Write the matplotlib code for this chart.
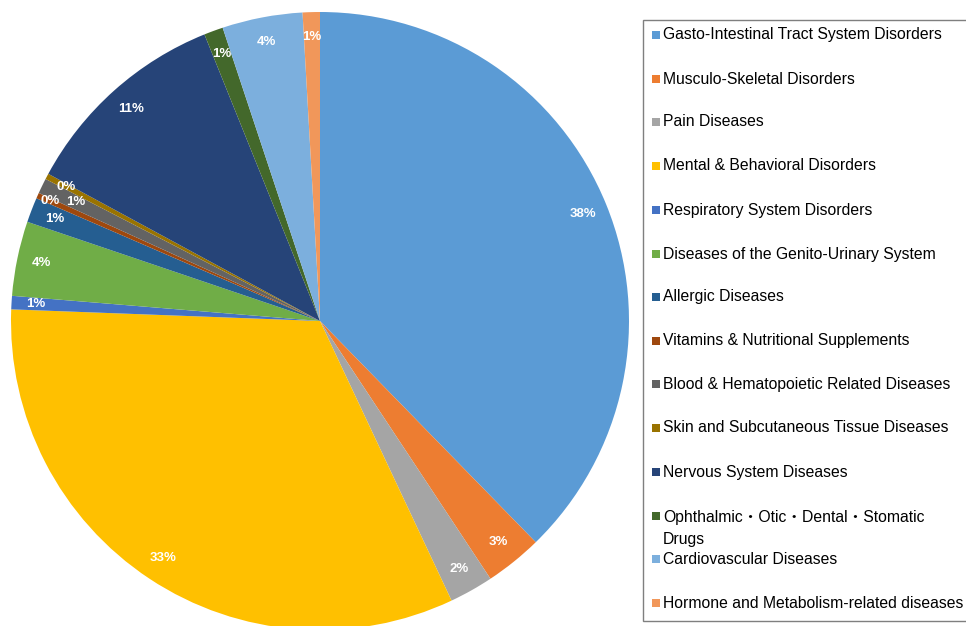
import numpy as np
import matplotlib
matplotlib.use("Agg")
import matplotlib.pyplot as plt
from matplotlib.patches import Rectangle

# share of each therapeutic area (%)
categories = [
    "Gasto-Intestinal Tract System Disorders",
    "Musculo-Skeletal Disorders",
    "Pain Diseases",
    "Mental & Behavioral Disorders",
    "Respiratory System Disorders",
    "Diseases of the Genito-Urinary System",
    "Allergic Diseases",
    "Vitamins & Nutritional Supplements",
    "Blood & Hematopoietic Related Diseases",
    "Skin and Subcutaneous Tissue Diseases",
    "Nervous System Diseases",
    "Ophthalmic\u30fbOtic\u30fbDental\u30fbStomatic\nDrugs",
    "Cardiovascular Diseases",
    "Hormone and Metabolism-related diseases",
]
shares = [37.7, 3.0, 2.3, 32.6, 0.7, 3.9, 1.3, 0.3, 0.8, 0.3, 11.0, 1.0, 4.2, 0.9]
colors = ["#5B9BD5", "#ED7D31", "#A5A5A5", "#FFC000", "#4472C4", "#70AD47",
          "#255E91", "#9E480E", "#636363", "#997300", "#264478", "#43682B",
          "#7CAFDD", "#F1975A"]

# radial position of each percentage label (fraction of radius)
label_r = [0.92] * len(shares)
label_r[7] = 0.955   # vitamins
label_r[8] = 0.88    # blood
label_r[9] = 0.93    # skin

W, H = 966, 626
fig = plt.figure(figsize=(W / 100, H / 100), dpi=100)

# pie axes: centre (320, 321) px, radius 309 px
cx, cy, r = 320, 321, 309
ax = fig.add_axes([(cx - r) / W, (H - cy - r) / H, 2 * r / W, 2 * r / H])
wedges, _ = ax.pie(shares, colors=colors, startangle=90, counterclock=False,
                   wedgeprops=dict(linewidth=0))
ax.set_xlim(-1, 1)
ax.set_ylim(-1, 1)
ax.set_aspect("equal")

total = sum(shares)
for w, v, lr in zip(wedges, shares, label_r):
    mid = np.deg2rad((w.theta1 + w.theta2) / 2)
    ax.text(lr * np.cos(mid), lr * np.sin(mid), "%d%%" % round(100 * v / total),
            ha="center", va="center", color="white", fontweight="bold",
            fontsize=9.5, family="Liberation Sans")

# legend box drawn in pixel coordinates
def px(x, y):
    return x / W, 1 - y / H

fig.patches.append(Rectangle(px(643, 621), (985 - 643) / W, (621 - 20) / H,
                             transform=fig.transFigure, facecolor="white",
                             edgecolor="#7f7f7f", linewidth=1.0))

rows_y = [35, 79, 122, 166, 210, 254, 297, 341, 384, 428, 472, 519, 559, 603]
for label, col, y in zip(categories, colors, rows_y):
    two_lines = "\n" in label
    my = y - 3 if two_lines else y
    fig.patches.append(Rectangle(px(652, my + 4), 8 / W, 8 / H,
                                 transform=fig.transFigure, facecolor=col,
                                 edgecolor="none"))
    if two_lines:
        fig.text(*px(663, y - 9), label, fontsize=11.3, va="top", ha="left",
                 color="black", linespacing=1.55,
                 family=["Liberation Sans", "Noto Sans CJK JP"])
    else:
        fig.text(*px(663, y), label, fontsize=11.3, va="center", ha="left",
                 color="black", family="Liberation Sans")

fig.savefig("out.png", dpi=100)
